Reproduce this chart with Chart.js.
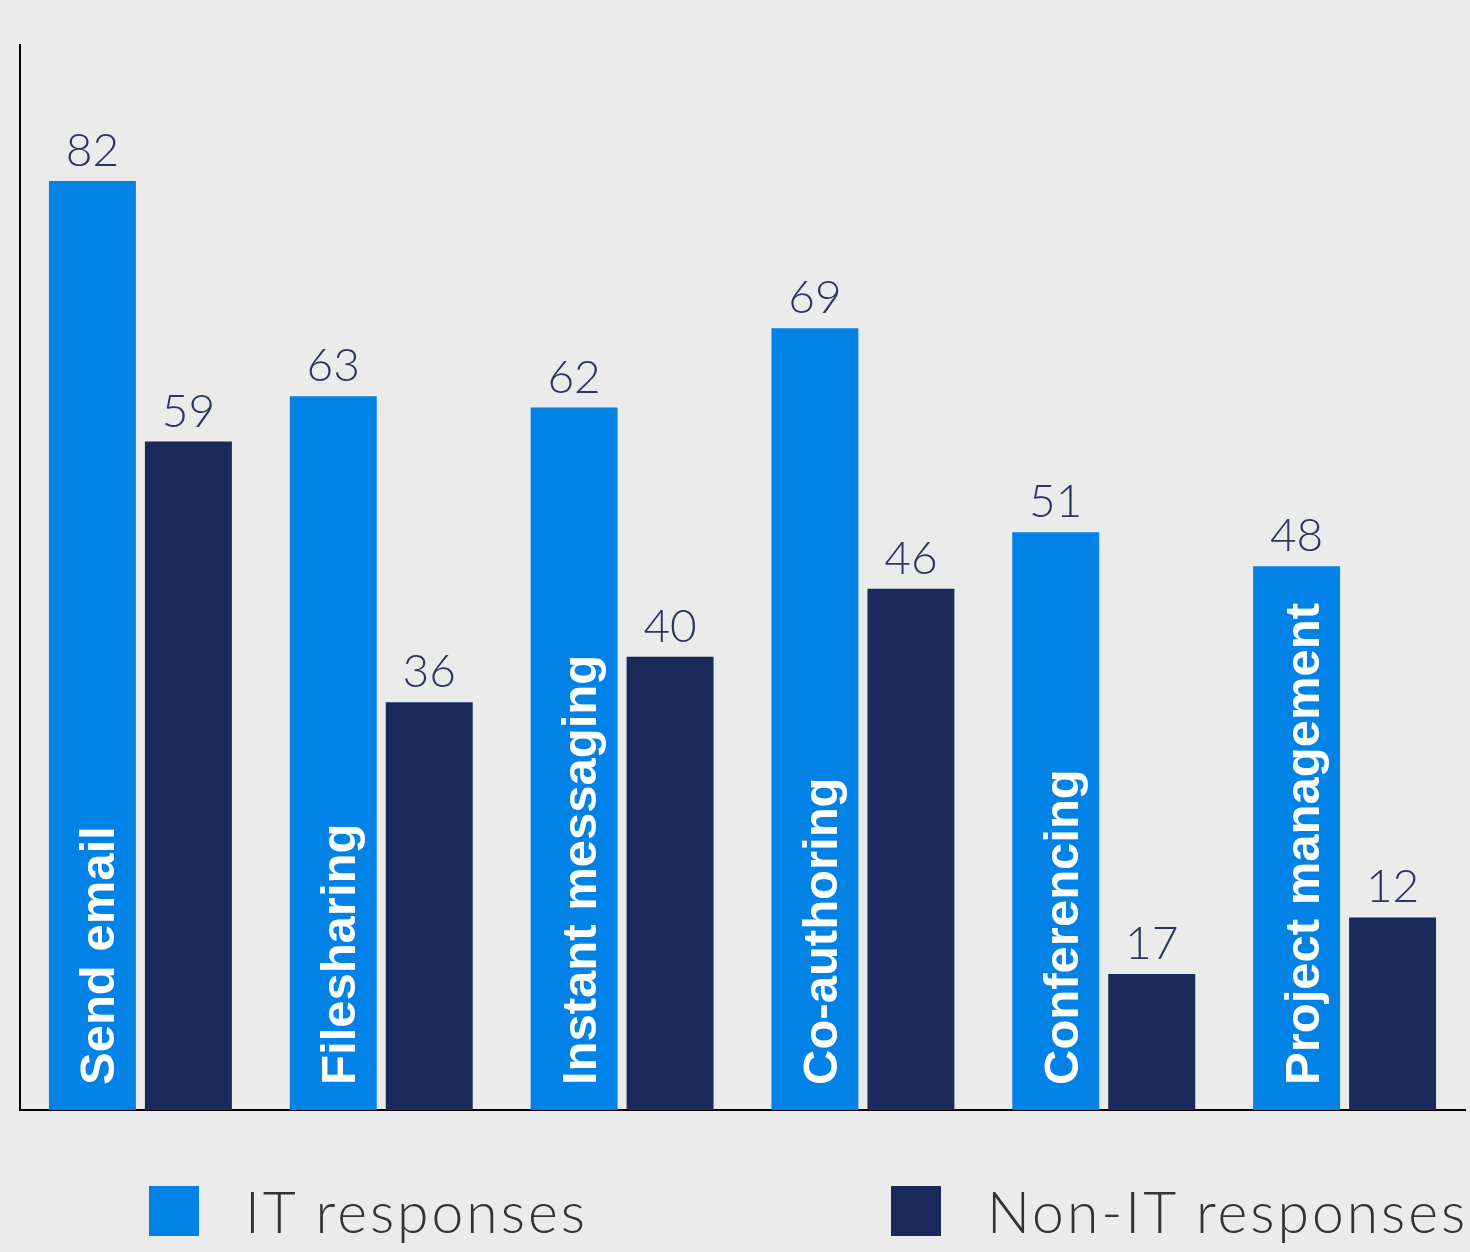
<!DOCTYPE html>
<html>
<head>
<meta charset="utf-8">
<script src="https://cdn.jsdelivr.net/npm/chart.js@4"></script>
<style>
  html, body { margin: 0; padding: 0; background: #ebebeb; }
  #wrap { position: relative; width: 1470px; height: 1252px; background: #ebebeb; }
  #c { position: absolute; left: 0; top: 0; }
  .leg { position: absolute; top: 1177px; display: flex; align-items: center; font-family: Lato, "Open Sans", sans-serif; font-weight: 300; font-size: 57px; letter-spacing: 3px; color: #333; white-space: nowrap; }
  .leg .sw { width: 50px; height: 50px; margin-right: 46px; }
</style>
</head>
<body>
<div id="wrap">
  <canvas id="c" width="1470" height="1252"></canvas>
  <div id="legend"></div>
</div>
<script>
const categories = ['Send email', 'Filesharing', 'Instant messaging', 'Co-authoring', 'Conferencing', 'Project management'];
const itValues = [82, 63, 62, 69, 51, 48];
const nonItValues = [59, 36, 40, 46, 12, 17];
const itLabels = ['82', '63', '62', '69', '51', '48'];
const nonItLabels = ['59', '36', '40', '46', '17', '12'];
const seriesNames = ['IT responses', 'Non-IT responses'];
const seriesColors = ['#0082e6', '#19295a'];
const yMax = 94;

const valueLabelPlugin = {
  id: 'valueLabels',
  afterDatasetsDraw(chart) {
    const ctx = chart.ctx;
    const labelSets = [itLabels, nonItLabels];
    ctx.save();
    chart.data.datasets.forEach((ds, di) => {
      const meta = chart.getDatasetMeta(di);
      meta.data.forEach((bar, i) => {
        ctx.fillStyle = '#2b3560';
        ctx.font = '300 46px Lato, "Open Sans", sans-serif';
        ctx.textAlign = 'center';
        ctx.textBaseline = 'alphabetic';
        ctx.fillText(labelSets[di][i], bar.x, bar.y - 15);
        if (di === 0) {
          ctx.save();
          ctx.translate(bar.x + 22, bar.base - 25);
          ctx.rotate(-Math.PI / 2);
          ctx.fillStyle = '#ffffff';
          ctx.font = 'bold 49px "Liberation Sans", Arial, sans-serif';
          ctx.textAlign = 'left';
          ctx.fillText(chart.data.labels[i], 0, 0);
          ctx.restore();
        }
      });
    });
    ctx.restore();
  }
};

const chart = new Chart(document.getElementById('c'), {
  type: 'bar',
  data: {
    labels: categories,
    datasets: [
      { label: seriesNames[0], data: itValues, backgroundColor: seriesColors[0], categoryPercentage: 0.797, barPercentage: 0.906 },
      { label: seriesNames[1], data: nonItValues, backgroundColor: seriesColors[1], categoryPercentage: 0.797, barPercentage: 0.906 }
    ]
  },
  options: {
    responsive: false,
    animation: false,
    devicePixelRatio: 1,
    layout: { padding: { left: 12, right: 5, top: 45, bottom: 134 } },
    plugins: { legend: { display: false }, tooltip: { enabled: false } },
    scales: {
      x: {
        grid: { display: false },
        ticks: { display: false },
        border: { display: true, color: '#000', width: 2 }
      },
      y: {
        min: 0, max: yMax,
        grid: { display: false },
        ticks: { display: false },
        border: { display: true, color: '#000', width: 2 }
      }
    }
  },
  plugins: [valueLabelPlugin]
});

const legend = document.getElementById('legend');
const legendLefts = [149, 891];
seriesNames.forEach((name, i) => {
  const item = document.createElement('div');
  item.className = 'leg';
  item.style.left = legendLefts[i] + 'px';
  const sw = document.createElement('div');
  sw.className = 'sw';
  sw.style.background = seriesColors[i];
  const tx = document.createElement('span');
  tx.textContent = name;
  item.appendChild(sw);
  item.appendChild(tx);
  legend.appendChild(item);
});
</script>
</body>
</html>
